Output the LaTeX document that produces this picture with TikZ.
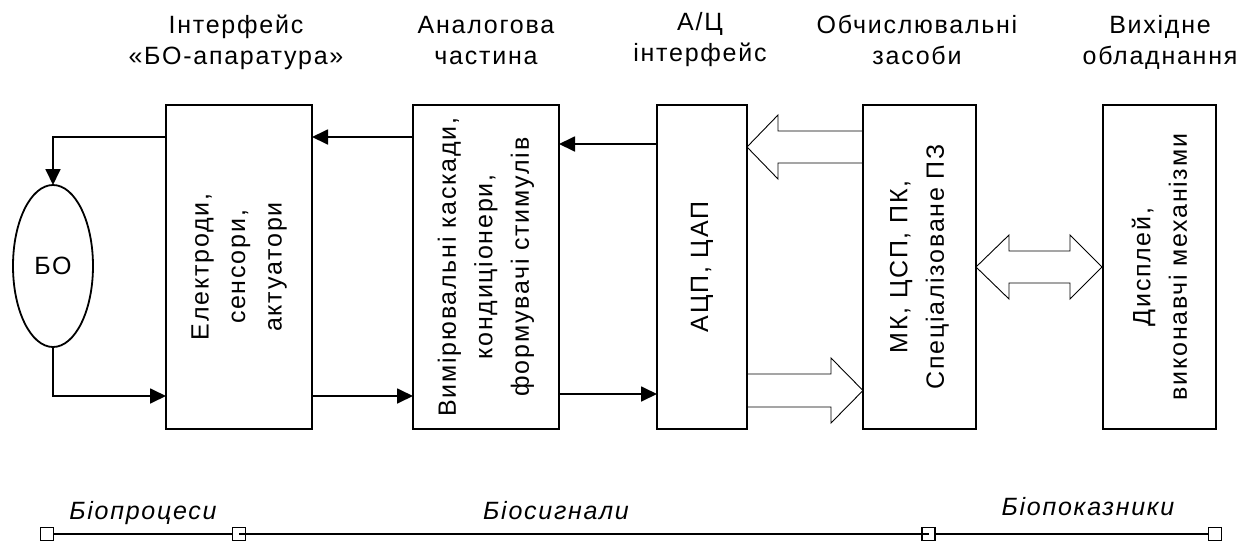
\documentclass[tikz,border=0pt]{standalone}
\usepackage{fontspec}
\setmainfont{Liberation Sans}
\newfontfamily\lblfont{Liberation Sans}[LetterSpace=7]
\usetikzlibrary{arrows.meta,shapes.geometric}
\begin{document}
\begin{tikzpicture}[x=1pt,y=-1pt,
  box/.style={draw,line width=1.8pt,inner sep=0pt,outer sep=0pt,minimum height=324pt},
  boxtext/.style={rotate=90,align=center,font=\lblfont\fontsize{25}{36.5}\selectfont,inner sep=0pt},
  toplabel/.style={align=center,anchor=base,font=\lblfont\fontsize{25}{31}\selectfont,inner sep=0pt},
  botlabel/.style={anchor=base,font=\lblfont\fontsize{25}{30}\selectfont\itshape,inner sep=0pt},
  arr/.style={line width=1.8pt,-{Triangle[length=16pt,width=15pt]}},
  hollow/.style={line width=0.9pt,line join=miter},
  sq/.style={draw,line width=1.5pt,minimum size=13pt,inner sep=0pt,outer sep=0pt},
  axis/.style={line width=1.8pt}]
\useasboundingbox (0,0) rectangle (1254,544);

% blocks
\node[box,minimum width=146pt] (b1) at (239,267) {};
\node[box,minimum width=146pt] (b2) at (486,267) {};
\node[box,minimum width=90pt] (b3) at (702,267) {};
\node[box,minimum width=113pt] (b4) at (919.5,267) {};
\node[box,minimum width=113pt] (b5) at (1159.5,267) {};
\node[draw,ellipse,line width=1.8pt,minimum width=80pt,minimum height=162pt,inner sep=0pt,outer sep=0pt,font=\lblfont\fontsize{25}{30}\selectfont] (bo) at (53,266) {БО};

\node[boxtext] (t1) at (b1.center) {Електроди,\\сенсори,\\актуатори};
\node[boxtext] (t2) at (b2.center) {Вимірювальні каскади,\\кондиціонери,\\формувачі стимулів};
\node[boxtext] (t3) at (b3.center) {АЦП, ЦАП};
\node[boxtext] (t4) at (b4.center) {МК, ЦСП, ПК,\\Спеціалізоване ПЗ};
\node[boxtext] (t5) at (b5.center) {Дисплей,\\виконавчі механізми};

% top labels (anchor = baseline of the last line)
\node[toplabel] (l1) at (236,64) {Інтерфейс\\«БО-апаратура»};
\node[toplabel] (l2) at (486,64) {Аналогова\\частина};
\node[toplabel] (l3) at (700,61) {А/Ц\\інтерфейс};
\node[toplabel] (l4) at (917,64) {Обчислювальні\\засоби};
\node[toplabel] (l5) at (1160,64) {Вихідне\\обладнання};

% connectors
\coordinate (yA) at (0,137);
\coordinate (yB) at (0,396);
\coordinate (yC) at (0,144);
\coordinate (yD) at (0,394);
\draw[arr] (b1.west |- yA) -| (bo.north);
\draw[arr] (bo.south) |- (b1.west |- yB);
\draw[arr] (b2.west |- yA) -- (b1.east |- yA);
\draw[arr] (b1.east |- yB) -- (b2.west |- yB);
\draw[arr] (b3.west |- yC) -- (b2.east |- yC);
\draw[arr] (b2.east |- yD) -- (b3.west |- yD);

% hollow arrows
\draw[hollow] (863,131) -- (778,131) -- (778,115) -- (747,147) -- (778,179) -- (778,163) -- (863,163);
\draw[hollow] (747,374) -- (831,374) -- (831,358) -- (863,390.5) -- (831,423) -- (831,407) -- (747,407);
\draw[hollow] (1009,251) -- (1070,251) -- (1070,235) -- (1102,267) -- (1070,299) -- (1070,283)
  -- (1009,283) -- (1009,299) -- (976,267) -- (1009,235) -- cycle;

% bottom scale
\node[sq] (s1) at (47,534) {};
\node[sq] (s2) at (239,534) {};
\node[sq] (s3) at (928.5,534) {};
\node[sq] (s4) at (1215,534) {};
\draw[axis] (s1.east) -- (s2.west);
\draw[axis] (s2.center) -- (s3.center);
\draw[axis] (s3.east) -- (s4.west);
\node[botlabel] (p1) at (143,519) {Біопроцеси};
\node[botlabel] (p2) at (556,519) {Біосигнали};
\node[botlabel] (p3) at (1088,515) {Біопоказники};
\end{tikzpicture}
\end{document}
